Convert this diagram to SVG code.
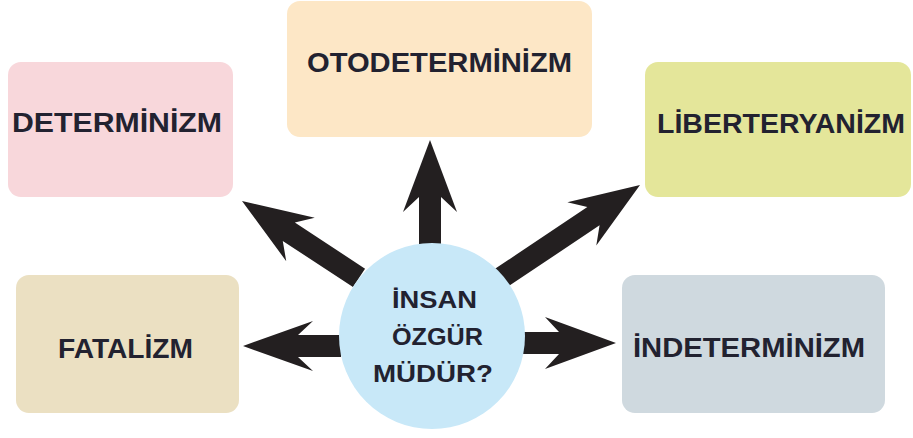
<svg xmlns="http://www.w3.org/2000/svg" width="913" height="438" viewBox="0 0 913 438">
  <style>
    .lbl { font-family: "Liberation Sans", Arial, sans-serif; font-weight: bold; font-size: 27px; fill: #222230; text-anchor: middle; }
    .q { font-family: "Liberation Sans", Arial, sans-serif; font-weight: bold; font-size: 24px; fill: #222230; text-anchor: middle; }
    .arrow { fill: #231f20; }
  </style>
  <rect width="913" height="438" fill="#ffffff"/>
  <g id="connectors">
    <polygon class="arrow" transform="translate(430,140) rotate(-90)" points="0,0 -72,-27 -57,-11 -107,-11 -107,11 -57,11 -72,27"/>
    <polygon class="arrow" transform="translate(242,201) rotate(213.3)" points="0,0 -70,-26 -56,-11 -140,-11 -140,11 -56,11 -70,26"/>
    <polygon class="arrow" transform="translate(640,185) rotate(-33.8)" points="0,0 -70,-26 -56,-11 -168,-11 -168,11 -56,11 -70,26"/>
    <polygon class="arrow" transform="translate(243,346) rotate(180)" points="0,0 -70,-25 -55,-11 -98,-11 -98,11 -55,11 -70,25"/>
    <polygon class="arrow" transform="translate(616,343)" points="0,0 -71,-26 -57,-11 -96,-11 -96,11 -57,11 -71,26"/>
  </g>
  <g id="determinizm">
    <rect x="8" y="62" width="225" height="135" rx="13" fill="#f8d7db"/>
    <text class="lbl" x="117" y="132" textLength="210" lengthAdjust="spacingAndGlyphs">DETERMİNİZM</text>
  </g>
  <g id="otodeterminizm">
    <rect x="287" y="1" width="305" height="136" rx="13" fill="#fde7c6"/>
    <text class="lbl" x="439.5" y="72" textLength="265" lengthAdjust="spacingAndGlyphs">OTODETERMİNİZM</text>
  </g>
  <g id="liberteryanizm">
    <rect x="645" y="62" width="266" height="135" rx="13" fill="#e4e69a"/>
    <text class="lbl" x="781" y="133" textLength="248" lengthAdjust="spacingAndGlyphs">LİBERTERYANİZM</text>
  </g>
  <g id="fatalizm">
    <rect x="16" y="275" width="223" height="138" rx="13" fill="#ebe0c2"/>
    <text class="lbl" x="125.5" y="358" textLength="135" lengthAdjust="spacingAndGlyphs">FATALİZM</text>
  </g>
  <g id="indeterminizm">
    <rect x="622" y="275" width="263" height="138" rx="13" fill="#cfd9df"/>
    <text class="lbl" x="749" y="357" textLength="232" lengthAdjust="spacingAndGlyphs">İNDETERMİNİZM</text>
  </g>
  <g id="insan-ozgur-mudur">
    <circle cx="432" cy="336" r="93" fill="#c8e8f8"/>
    <text class="q" x="434.5" y="308" textLength="85" lengthAdjust="spacingAndGlyphs">İNSAN</text>
    <text class="q" x="437.5" y="345" textLength="91" lengthAdjust="spacingAndGlyphs">ÖZGÜR</text>
    <text class="q" x="433" y="382" textLength="120" lengthAdjust="spacingAndGlyphs">MÜDÜR?</text>
  </g>
</svg>
